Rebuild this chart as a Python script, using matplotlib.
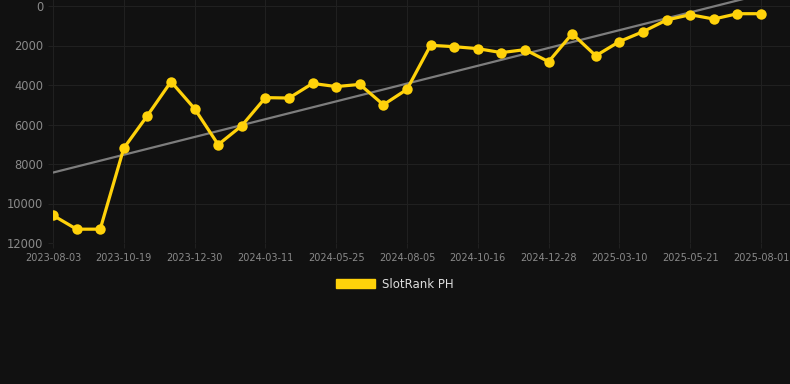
import numpy as np
import matplotlib.pyplot as plt
from matplotlib.patches import Patch

# Rank values (lower is better), one per sample point
ranks = [10600, 11300, 11300, 7200, 5550, 3830, 5200, 7020, 6060, 4640,
         4660, 3920, 4080, 3970, 5000, 4220, 1990, 2060, 2160, 2360,
         2210, 2820, 1400, 2520, 1800, 1300, 710, 440, 660, 390, 390]

tick_labels = ['2023-08-03', '2023-10-19', '2023-12-30', '2024-03-11',
               '2024-05-25', '2024-08-05', '2024-10-16', '2024-12-28',
               '2025-03-10', '2025-05-21', '2025-08-01']
label_every = 3
series_name = 'SlotRank PH'

bg = '#111111'
grid_c = '#202020'
text_c = '#8a8a8a'
gold = '#FFD20A'


def plot_data():
    W, H = 790, 384
    fig = plt.figure(figsize=(W / 100, H / 100), dpi=100, facecolor=bg)
    ax = fig.add_axes([53 / W, 1 - 243 / H, (W - 53) / W, 243 / H])
    ax.set_facecolor(bg)

    x = np.arange(len(ranks))
    y = np.array(ranks, dtype=float)

    # linear trend
    k, b = np.polyfit(x, y, 1)
    ax.plot(x, k * x + b, color='#7d7d7d', lw=1.6, zorder=2)

    ax.plot(x, y, color=gold, lw=2.3, marker='o', ms=7.5,
            markeredgewidth=0, zorder=3)

    px = (761 - 53) / (len(ranks) - 1)
    ax.set_xlim(0, (W - 53) / px)
    ax.set_ylim(12000, -6 / 19.75 * 1000)

    ax.set_xticks(x[::label_every])
    ax.set_xticklabels(tick_labels)
    ax.set_yticks(np.arange(0, 12001, 2000))

    ax.grid(True, color=grid_c, lw=0.8)
    for s in ax.spines.values():
        s.set_visible(False)
    ax.tick_params(axis='x', colors=grid_c, labelcolor=text_c, labelsize=7,
                   length=3.6, width=0.8, pad=3.5)
    ax.tick_params(axis='y', colors=grid_c, labelcolor=text_c, labelsize=8.3,
                   length=3.6, width=0.8, pad=3.5)

    fig.legend(handles=[Patch(facecolor=gold, edgecolor=gold)],
               labels=[series_name], loc='center',
               bbox_to_anchor=(0.5, 1 - 284 / H), frameon=False,
               handlelength=3.3, handleheight=0.9, handletextpad=0.6,
               fontsize=8.5, labelcolor='#dddddd')

    fig.savefig('out.png', dpi=100, facecolor=bg)


def main():
    plot_data()


if __name__ == '__main__':
    main()
